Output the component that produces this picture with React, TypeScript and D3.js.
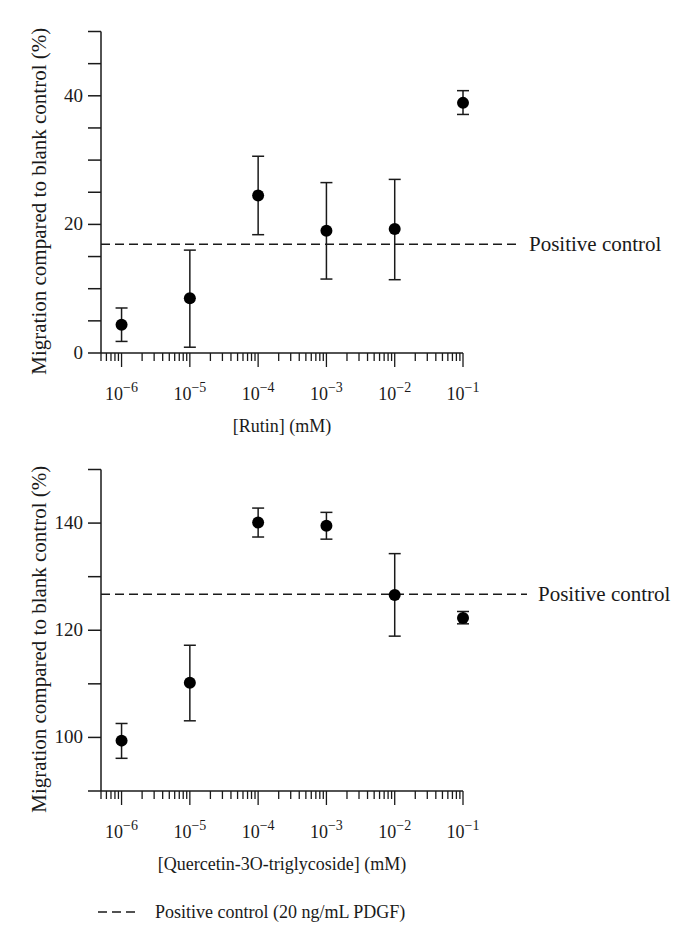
import React from "react";
import * as d3 from "d3";

const concentrations = [1e-6, 1e-5, 1e-4, 1e-3, 1e-2, 1e-1];
const rutinMean = [4.4, 8.5, 24.5, 19.0, 19.3, 38.9];
const rutinLow = [1.8, 0.9, 18.4, 11.5, 11.4, 37.1];
const rutinHigh = [7.0, 16.0, 30.6, 26.5, 27.0, 40.8];
const rutinControl = 16.9;
const rutinYTicks = [0, 5, 10, 15, 20, 25, 30, 35, 40, 45, 50];
const rutinYLabels = [0, 20, 40];

const quercMean = [99.4, 110.2, 140.1, 139.5, 126.6, 122.3];
const quercLow = [96.1, 103.1, 137.4, 137.0, 118.9, 121.2];
const quercHigh = [102.6, 117.2, 142.8, 142.0, 134.3, 123.5];
const quercControl = 126.7;
const quercYTicks = [90, 100, 110, 120, 130, 140, 150];
const quercYLabels = [100, 120, 140];

const FONT = "'Liberation Serif', 'Times New Roman', serif";
const FS = 18;
const FS_BIG = 21;

type PanelProps = {
  top: number;
  bottom: number;
  domain: [number, number];
  mean: number[];
  low: number[];
  high: number[];
  control: number;
  yTicks: number[];
  yLabels: number[];
  xTitle: string;
  controlEnd: number;
  controlLabelX: number;
};

const X0 = 101;
const X1 = 463;

function Panel(p: PanelProps) {
  const x = d3.scaleLog().domain([5e-7, 0.1]).range([X0, X1]);
  const y = d3.scaleLinear().domain(p.domain).range([p.bottom, p.top]);
  const xt = x.ticks();
  const supers = ["−7", "−6", "−5", "−4", "−3", "−2", "−1"];
  return (
    <g fontFamily={FONT} fill="#1a1a1a">
      {/* y axis */}
      <line x1={X0} x2={X0} y1={y(p.domain[1])} y2={y(p.domain[0])} stroke="#1a1a1a" strokeWidth={1.5} />
      {p.yTicks.map((t) => (
        <line key={"yt" + t} x1={X0 - 13} x2={X0} y1={y(t)} y2={y(t)} stroke="#1a1a1a" strokeWidth={1.5} />
      ))}
      {p.yLabels.map((t) => (
        <text key={"yl" + t} x={X0 - 18} y={y(t) + 6} textAnchor="end" fontSize={FS + 1}>
          {t}
        </text>
      ))}
      {/* x axis */}
      <line x1={X0} x2={X1} y1={p.bottom} y2={p.bottom} stroke="#1a1a1a" strokeWidth={1.5} />
      {xt.map((t, i) => {
        const lg = Math.log10(t);
        const major = Math.abs(lg - Math.round(lg)) < 1e-6;
        return (
          <line
            key={"xt" + i}
            x1={x(t)}
            x2={x(t)}
            y1={p.bottom}
            y2={p.bottom + (major ? 14 : 8)}
            stroke="#1a1a1a"
            strokeWidth={1.3}
          />
        );
      })}
      {concentrations.map((c, i) => {
        const e = Math.round(Math.log10(c));
        return (
          <text key={"xl" + i} x={x(c)} y={p.bottom + 47} textAnchor="middle" fontSize={FS}>
            10
            <tspan dy={-8} fontSize={14}>
              {supers[e + 7]}
            </tspan>
          </text>
        );
      })}
      <text x={(X0 + X1) / 2} y={p.bottom + 79} textAnchor="middle" fontSize={FS}>
        {p.xTitle}
      </text>
      {/* y title */}
      <text
        transform={`translate(46,${(p.top + p.bottom) / 2 + 9}) rotate(-90)`}
        textAnchor="middle"
        fontSize={FS_BIG}
      >
        Migration compared to blank control (%)
      </text>
      {/* control line */}
      <line
        x1={X0}
        x2={p.controlEnd}
        y1={y(p.control)}
        y2={y(p.control)}
        stroke="#1a1a1a"
        strokeWidth={1.5}
        strokeDasharray="9,5"
      />
      <text x={p.controlLabelX} y={y(p.control) + 7} fontSize={FS_BIG}>
        Positive control
      </text>
      {/* error bars and points */}
      {concentrations.map((c, i) => (
        <g key={"pt" + i}>
          <line x1={x(c)} x2={x(c)} y1={y(p.low[i])} y2={y(p.high[i])} stroke="#1a1a1a" strokeWidth={1.5} />
          <line x1={x(c) - 6} x2={x(c) + 6} y1={y(p.low[i])} y2={y(p.low[i])} stroke="#1a1a1a" strokeWidth={1.5} />
          <line x1={x(c) - 6} x2={x(c) + 6} y1={y(p.high[i])} y2={y(p.high[i])} stroke="#1a1a1a" strokeWidth={1.5} />
          <circle cx={x(c)} cy={y(p.mean[i])} r={6} fill="#000" />
        </g>
      ))}
    </g>
  );
}

export default function App() {
  return (
    <svg width={672} height={921} style={{ display: "block" }} viewBox="8 8 672 921">
      <rect x={0} y={0} width={688} height={937} fill="#fff" />
      <Panel
        top={31.5}
        bottom={353}
        domain={[0, 50]}
        mean={rutinMean}
        low={rutinLow}
        high={rutinHigh}
        control={rutinControl}
        yTicks={rutinYTicks}
        yLabels={rutinYLabels}
        xTitle="[Rutin] (mM)"
        controlEnd={517}
        controlLabelX={529}
      />
      <Panel
        top={469.5}
        bottom={791}
        domain={[90, 150]}
        mean={quercMean}
        low={quercLow}
        high={quercHigh}
        control={quercControl}
        yTicks={quercYTicks}
        yLabels={quercYLabels}
        xTitle="[Quercetin-3O-triglycoside] (mM)"
        controlEnd={527}
        controlLabelX={538}
      />
      <g fontFamily={FONT}>
        <line x1={98} x2={140} y1={912} y2={912} stroke="#1a1a1a" strokeWidth={1.5} strokeDasharray="9,5" />
        <text x={155} y={918} fontSize={FS} fill="#1a1a1a">
          Positive control (20 ng/mL PDGF)
        </text>
      </g>
    </svg>
  );
}
